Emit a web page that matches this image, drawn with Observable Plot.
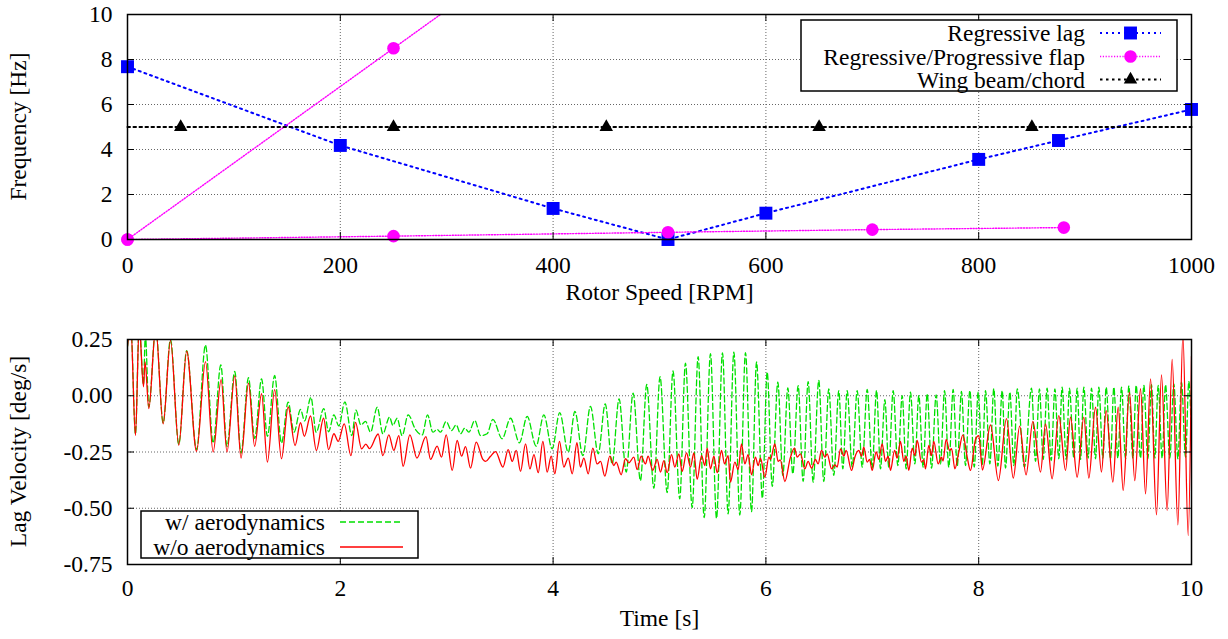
<!DOCTYPE html>
<html>
<head>
<meta charset="utf-8">
<script src="https://cdn.jsdelivr.net/npm/d3@7"></script>
<script src="https://cdn.jsdelivr.net/npm/@observablehq/plot@0.6"></script>
<style>
  html, body { margin: 0; padding: 0; background: white; overflow: hidden; }
  #chart svg { display: block; }
</style>
</head>
<body>
<div id="chart"></div>
<script>
// ---------- Top panel data ----------
const rpmTicks = [0, 200, 400, 600, 800, 1000];
const freqTicks = [0, 2, 4, 6, 8, 10];
const lagRpm = [0, 200, 400, 508, 600, 800, 875, 1000];
const lagFreq = [7.68, 4.18, 1.38, 0.0, 1.17, 3.56, 4.4, 5.78];
const flapUpRpm = [0, 250, 500];
const flapUpFreq = [0, 8.5, 17.0];
const flapLoRpm = [0, 250, 508, 700, 880];
const flapLoFreq = [0, 0.15, 0.32, 0.44, 0.53];
const wingLineRpm = [0, 1000];
const wingLineFreq = [5, 5];
const wingRpm = [50, 250, 450, 650, 850];
const wingFreq = [5, 5, 5, 5, 5];
const topLegend = ["Regressive lag", "Regressive/Progressive flap", "Wing beam/chord"];
const topTitles = {x: "Rotor Speed [RPM]", y: "Frequency [Hz]"};

// ---------- Bottom panel data ----------
const timeTicks = [0, 2, 4, 6, 8, 10];
const velTicks = [-0.75, -0.5, -0.25, 0, 0.25];
const bottomLegend = ["w/ aerodynamics", "w/o aerodynamics"];
const bottomTitles = {x: "Time [s]", y: "Lag Velocity [deg/s]"};
// [time s, lag velocity deg/s] — w/o aerodynamics
const redSeries = [[0.000,0.22],[0.030,0.32],[0.075,-0.177],[0.110,0.32],[0.150,0.04],[0.165,0.15],[0.200,-0.057],[0.265,0.30],[0.335,-0.125],[0.404,0.246],[0.482,-0.22],[0.556,0.198],[0.649,-0.247],[0.733,0.152],[0.805,-0.25],[0.880,0.072],[0.935,-0.25],[1.008,0.088],[1.067,-0.277],[1.137,0.056],[1.195,-0.225],[1.260,0.009],[1.315,-0.295],[1.383,0.027],[1.447,-0.280],[1.510,-0.050],[1.575,-0.221],[1.626,-0.120],[1.662,-0.180],[1.720,-0.090],[1.775,-0.243],[1.843,-0.100],[1.890,-0.239],[1.940,-0.169],[1.980,-0.203],[2.037,-0.125],[2.100,-0.266],[2.143,-0.118],[2.200,-0.236],[2.240,-0.215],[2.275,-0.235],[2.356,-0.170],[2.400,-0.266],[2.456,-0.174],[2.503,-0.243],[2.550,-0.177],[2.590,-0.313],[2.654,-0.174],[2.720,-0.277],[2.805,-0.182],[2.848,-0.283],[2.910,-0.224],[2.951,-0.273],[2.995,-0.174],[3.052,-0.332],[3.098,-0.199],[3.140,-0.268],[3.177,-0.226],[3.224,-0.322],[3.277,-0.206],[3.340,-0.283],[3.365,-0.292],[3.410,-0.270],[3.459,-0.248],[3.528,-0.317],[3.578,-0.239],[3.616,-0.292],[3.653,-0.243],[3.694,-0.336],[3.741,-0.214],[3.782,-0.325],[3.820,-0.262],[3.860,-0.342],[3.904,-0.203],[3.944,-0.339],[3.982,-0.268],[4.016,-0.347],[4.060,-0.203],[4.101,-0.317],[4.142,-0.277],[4.180,-0.347],[4.224,-0.209],[4.257,-0.317],[4.289,-0.277],[4.330,-0.347],[4.373,-0.233],[4.414,-0.303],[4.446,-0.292],[4.486,-0.357],[4.533,-0.268],[4.571,-0.310],[4.593,-0.295],[4.640,-0.351],[4.680,-0.280],[4.712,-0.298],[4.759,-0.273],[4.790,-0.328],[4.828,-0.268],[4.868,-0.303],[4.893,-0.268],[4.937,-0.332],[4.978,-0.283],[5.009,-0.339],[5.041,-0.288],[5.072,-0.342],[5.113,-0.262],[5.144,-0.317],[5.182,-0.258],[5.213,-0.336],[5.254,-0.254],[5.291,-0.317],[5.323,-0.254],[5.354,-0.372],[5.395,-0.266],[5.426,-0.310],[5.448,-0.233],[5.479,-0.325],[5.511,-0.268],[5.542,-0.342],[5.583,-0.243],[5.611,-0.303],[5.645,-0.266],[5.667,-0.384],[5.708,-0.295],[5.739,-0.328],[5.771,-0.214],[5.802,-0.303],[5.833,-0.262],[5.865,-0.351],[5.902,-0.273],[5.927,-0.310],[5.949,-0.277],[5.990,-0.362],[6.028,-0.273],[6.043,-0.283],[6.084,-0.214],[6.115,-0.292],[6.135,-0.285],[6.178,-0.381],[6.230,-0.275],[6.269,-0.233],[6.294,-0.273],[6.325,-0.258],[6.366,-0.325],[6.397,-0.292],[6.429,-0.322],[6.466,-0.283],[6.491,-0.303],[6.523,-0.243],[6.554,-0.273],[6.576,-0.258],[6.617,-0.325],[6.648,-0.307],[6.670,-0.317],[6.701,-0.236],[6.733,-0.268],[6.754,-0.243],[6.805,-0.332],[6.836,-0.273],[6.873,-0.243],[6.899,-0.268],[6.920,-0.228],[6.952,-0.295],[6.974,-0.283],[6.999,-0.332],[7.036,-0.250],[7.061,-0.283],[7.093,-0.214],[7.124,-0.292],[7.149,-0.268],[7.171,-0.332],[7.209,-0.243],[7.234,-0.277],[7.265,-0.203],[7.296,-0.292],[7.318,-0.268],[7.343,-0.332],[7.375,-0.233],[7.400,-0.266],[7.422,-0.199],[7.462,-0.295],[7.484,-0.285],[7.500,-0.325],[7.531,-0.221],[7.556,-0.266],[7.578,-0.203],[7.619,-0.303],[7.650,-0.273],[7.665,-0.290],[7.694,-0.194],[7.726,-0.243],[7.745,-0.235],[7.776,-0.325],[7.813,-0.251],[7.851,-0.174],[7.892,-0.273],[7.923,-0.332],[7.970,-0.194],[8.001,-0.177],[8.035,-0.330],[8.111,-0.130],[8.185,-0.377],[8.261,-0.102],[8.325,-0.366],[8.385,-0.135],[8.445,-0.352],[8.509,-0.114],[8.581,-0.339],[8.628,-0.125],[8.690,-0.369],[8.753,-0.088],[8.816,-0.332],[8.863,-0.095],[8.925,-0.362],[8.988,-0.095],[9.035,-0.366],[9.098,-0.051],[9.154,-0.339],[9.198,-0.066],[9.261,-0.384],[9.311,-0.051],[9.358,-0.421],[9.417,0.016],[9.467,-0.377],[9.521,0.031],[9.568,-0.436],[9.615,0.075],[9.671,-0.529],[9.718,0.093],[9.771,-0.510],[9.818,0.161],[9.872,-0.574],[9.919,0.27],[9.969,-0.621],[10.000,0.175]];
// [time s, lag velocity deg/s] — w/ aerodynamics
const greenSeries = [[0.000,0.22],[0.030,0.32],[0.075,-0.17],[0.110,0.32],[0.150,0.05],[0.168,0.27],[0.200,-0.05],[0.265,0.30],[0.335,-0.12],[0.404,0.25],[0.482,-0.215],[0.556,0.20],[0.649,-0.240],[0.733,0.225],[0.805,-0.210],[0.877,0.137],[0.935,-0.225],[1.008,0.108],[1.067,-0.255],[1.137,0.080],[1.195,-0.190],[1.260,0.075],[1.315,-0.180],[1.383,0.090],[1.447,-0.210],[1.510,-0.028],[1.565,-0.162],[1.626,-0.061],[1.664,-0.112],[1.724,-0.007],[1.773,-0.162],[1.845,-0.057],[1.890,-0.160],[1.940,-0.085],[1.986,-0.134],[2.043,-0.027],[2.108,-0.177],[2.147,-0.064],[2.193,-0.130],[2.237,-0.114],[2.284,-0.162],[2.347,-0.051],[2.400,-0.169],[2.463,-0.095],[2.494,-0.132],[2.534,-0.100],[2.581,-0.177],[2.638,-0.085],[2.707,-0.150],[2.770,-0.174],[2.820,-0.085],[2.870,-0.162],[2.910,-0.150],[2.942,-0.162],[2.995,-0.114],[3.045,-0.155],[3.089,-0.129],[3.130,-0.169],[3.170,-0.144],[3.208,-0.162],[3.264,-0.110],[3.318,-0.177],[3.380,-0.169],[3.434,-0.105],[3.521,-0.191],[3.600,-0.100],[3.684,-0.209],[3.756,-0.092],[3.841,-0.224],[3.913,-0.085],[3.991,-0.236],[4.062,-0.075],[4.142,-0.251],[4.205,-0.070],[4.280,-0.266],[4.351,-0.047],[4.424,-0.258],[4.490,-0.036],[4.555,-0.303],[4.620,-0.014],[4.687,-0.339],[4.752,0.012],[4.821,-0.377],[4.880,0.050],[4.947,-0.411],[5.005,0.085],[5.072,-0.430],[5.127,0.110],[5.190,-0.458],[5.244,0.145],[5.307,-0.497],[5.363,0.174],[5.420,-0.542],[5.479,0.187],[5.536,-0.545],[5.592,0.191],[5.645,-0.525],[5.699,0.194],[5.755,-0.530],[5.808,0.192],[5.865,-0.515],[5.912,0.150],[5.967,-0.455],[6.012,0.105],[6.060,-0.403],[6.112,0.060],[6.159,-0.354],[6.206,0.035],[6.253,-0.347],[6.303,0.045],[6.350,-0.381],[6.397,0.063],[6.444,-0.384],[6.497,0.068],[6.544,-0.381],[6.591,0.031],[6.638,-0.354],[6.685,0.023],[6.723,-0.325],[6.764,0.023],[6.811,-0.317],[6.858,0.023],[6.905,-0.317],[6.952,0.028],[6.999,-0.322],[7.040,0.023],[7.077,-0.325],[7.118,-0.017],[7.155,-0.317],[7.196,0.023],[7.240,-0.310],[7.281,0.001],[7.318,-0.325],[7.359,0.016],[7.400,-0.303],[7.437,0.001],[7.478,-0.317],[7.516,0.009],[7.557,-0.322],[7.600,0.004],[7.641,-0.303],[7.679,0.023],[7.719,-0.317],[7.760,0.028],[7.798,-0.313],[7.838,0.019],[7.876,-0.310],[7.917,0.023],[7.958,-0.317],[7.995,0.016],[8.033,-0.310],[8.064,0.023],[8.105,-0.303],[8.142,0.031],[8.180,-0.313],[8.221,0.023],[8.252,-0.322],[8.293,0.016],[8.330,-0.310],[8.362,0.031],[8.430,-0.317],[8.496,0.034],[8.534,-0.292],[8.571,0.031],[8.606,-0.283],[8.643,0.034],[8.681,-0.288],[8.716,0.031],[8.753,-0.280],[8.784,0.038],[8.822,-0.283],[8.853,0.034],[8.894,-0.277],[8.925,0.034],[8.957,-0.283],[8.988,0.038],[9.029,-0.277],[9.060,0.034],[9.098,-0.280],[9.129,0.038],[9.167,-0.277],[9.198,0.038],[9.239,-0.280],[9.270,0.038],[9.308,-0.277],[9.342,0.038],[9.380,-0.280],[9.411,0.043],[9.449,-0.277],[9.480,0.046],[9.521,-0.277],[9.552,0.046],[9.590,-0.280],[9.624,0.049],[9.655,-0.277],[9.687,0.046],[9.724,-0.277],[9.756,0.049],[9.796,-0.277],[9.834,0.053],[9.872,-0.280],[9.906,0.060],[9.944,-0.273],[9.975,0.063],[10.000,-0.20]];

// ---------- Build tables ----------
const zip = (xs, ys) => xs.map((x, i) => ({x, y: ys[i]}));
const lag = zip(lagRpm, lagFreq);
const flapUp = zip(flapUpRpm, flapUpFreq);
const flapLo = zip(flapLoRpm, flapLoFreq);
const flapPts = flapUp.concat(flapLo).filter(d => d.y <= 10);
const wingLine = zip(wingLineRpm, wingLineFreq);
const wingPts = zip(wingRpm, wingFreq);
const red = redSeries.map(([x, y]) => ({x, y}));
const green = greenSeries.map(([x, y]) => ({x, y}));

const FONT = "'Liberation Serif', 'Times New Roman', Times, serif";
const FS = 23.5;
const W = 1228, ML = 127, MR = 37;
const FW = W - ML - MR;        // frame width
const TICK = 7;
const BLUE = "#0000ff", MAG = "#ff00ff", GREEN = "#00e000", RED = "#ff0000";
const gridStyle = {stroke: "#666", strokeOpacity: 1, strokeWidth: 1, strokeDasharray: "1,2"};
const lagStyle = {stroke: BLUE, strokeWidth: 2, strokeDasharray: "2,4"};
const flapStyle = {stroke: MAG, strokeWidth: 1.4, strokeDasharray: "1.2,1.6"};
const wingStyle = {stroke: "black", strokeWidth: 2, strokeDasharray: "2.5,3.5"};

function frameTicks(xt, yt, FH) {
  return [
    Plot.tickX(xt, {x: d => d, insetTop: FH - TICK, stroke: "black", strokeWidth: 1}),
    Plot.tickX(xt, {x: d => d, insetBottom: FH - TICK, stroke: "black", strokeWidth: 1}),
    Plot.tickY(yt, {y: d => d, insetRight: FW - TICK, stroke: "black", strokeWidth: 1}),
    Plot.tickY(yt, {y: d => d, insetLeft: FW - TICK, stroke: "black", strokeWidth: 1})
  ];
}

// ---------- Top panel ----------
const TH = 320, TMT = 14, TMB = 81;
const topChart = Plot.plot({
  width: W, height: TH,
  marginLeft: ML, marginRight: MR, marginTop: TMT, marginBottom: TMB,
  x: {domain: [0, 1000]},
  y: {domain: [0, 10]},
  style: {fontFamily: FONT, fontSize: FS + "px", background: "white", color: "black"},
  marks: [
    Plot.gridX(rpmTicks.slice(1, -1), gridStyle),
    Plot.gridY(freqTicks.slice(1, -1), gridStyle),
    Plot.line(lag, {x: "x", y: "y", ...lagStyle, clip: true}),
    Plot.dot(lag, {x: "x", y: "y", symbol: "square", r: 7.3, fill: BLUE, stroke: "none"}),
    Plot.line(flapUp, {x: "x", y: "y", ...flapStyle, clip: true}),
    Plot.line(flapLo, {x: "x", y: "y", ...flapStyle, clip: true}),
    Plot.dot(flapPts, {x: "x", y: "y", symbol: "circle", r: 6.3, fill: MAG, stroke: "none"}),
    Plot.line(wingLine, {x: "x", y: "y", ...wingStyle}),
    Plot.dot(wingPts, {x: "x", y: "y", symbol: "triangle", r: 5, fill: "black", stroke: "none"}),
    ...frameTicks(rpmTicks, freqTicks, TH - TMT - TMB),
    Plot.frame({stroke: "black", strokeWidth: 1.5}),
    Plot.axisX(rpmTicks, {tickSize: 0, tickPadding: 17, label: null, fontSize: FS, tickFormat: d => String(d)}),
    Plot.axisY(freqTicks, {tickSize: 0, tickPadding: 15, label: null, fontSize: FS, tickFormat: d => String(d)}),
    Plot.text([topTitles.x], {text: d => d, frameAnchor: "bottom", dy: 60, fontSize: FS})
  ]
});

// ---------- Bottom panel ----------
const BH = 319, BMT = 19, BMB = 75;
const bottomChart = Plot.plot({
  width: W, height: BH,
  marginLeft: ML, marginRight: MR, marginTop: BMT, marginBottom: BMB,
  x: {domain: [0, 10]},
  y: {domain: [-0.75, 0.25]},
  style: {fontFamily: FONT, fontSize: FS + "px", background: "white", color: "black"},
  marks: [
    Plot.gridX(timeTicks.slice(1, -1), gridStyle),
    Plot.gridY(velTicks.slice(1, -1), gridStyle),
    Plot.line(green, {x: "x", y: "y", stroke: GREEN, strokeWidth: 1.3, strokeDasharray: "6,3", curve: "monotone-x", clip: true}),
    Plot.line(red, {x: "x", y: "y", stroke: RED, strokeWidth: 1.3, curve: "monotone-x", clip: true}),
    ...frameTicks(timeTicks, velTicks, BH - BMT - BMB),
    Plot.frame({stroke: "black", strokeWidth: 1.5}),
    Plot.axisX(timeTicks, {tickSize: 0, tickPadding: 15, label: null, fontSize: FS, tickFormat: d => String(d)}),
    Plot.axisY(velTicks, {tickSize: 0, tickPadding: 15, label: null, fontSize: FS, tickFormat: d => d.toFixed(2)}),
    Plot.text([bottomTitles.x], {text: d => d, frameAnchor: "bottom", dy: 61, fontSize: FS})
  ]
});

// ---------- Rotated y titles ----------
function yTitle(svg, text, cx, cy) {
  d3.select(svg).append("text")
    .attr("transform", `translate(${cx},${cy}) rotate(-90)`)
    .attr("text-anchor", "middle").attr("dominant-baseline", "central")
    .attr("font-family", FONT).attr("font-size", FS).attr("fill", "black")
    .text(text);
}
yTitle(topChart, topTitles.y, 18, TMT + (TH - TMT - TMB) / 2);
yTitle(bottomChart, bottomTitles.y, 18, BMT + (BH - BMT - BMB) / 2);

// ---------- Legends (gnuplot style boxes) ----------
function legend(svg, box, rows, textX, sampleX1, sampleX2, items) {
  const g = d3.select(svg).append("g").attr("font-family", FONT).attr("font-size", FS);
  g.append("rect").attr("x", box[0]).attr("y", box[1]).attr("width", box[2]).attr("height", box[3])
    .attr("fill", "white").attr("stroke", "black").attr("stroke-width", 1.5);
  items.forEach((it, i) => {
    const y = rows[i];
    g.append("text").attr("x", textX).attr("y", y).attr("text-anchor", "end")
      .attr("dominant-baseline", "central").text(it.label);
    g.append("line").attr("x1", sampleX1).attr("x2", sampleX2).attr("y1", y).attr("y2", y)
      .attr("stroke", it.color).attr("stroke-width", it.width).attr("stroke-dasharray", it.dash || null);
    if (it.symbol) {
      const cx = (sampleX1 + sampleX2) / 2;
      g.append("path").attr("transform", `translate(${cx},${y})`)
        .attr("d", d3.symbol(it.symbol, it.size)()).attr("fill", it.color);
    }
  });
}

legend(topChart, [801, 20, 376, 71], [33, 56.5, 79.5], 1085, 1100, 1161, [
  {label: topLegend[0], color: BLUE, width: 2, dash: lagStyle.strokeDasharray, symbol: d3.symbolSquare, size: Math.PI * 7.3 * 7.3},
  {label: topLegend[1], color: MAG, width: 1.4, dash: flapStyle.strokeDasharray, symbol: d3.symbolCircle, size: Math.PI * 6.3 * 6.3},
  {label: topLegend[2], color: "black", width: 2, dash: wingStyle.strokeDasharray, symbol: d3.symbolTriangle, size: Math.PI * 25}
]);

legend(bottomChart, [141, 191, 277, 47], [202, 227], 325, 340, 403, [
  {label: bottomLegend[0], color: GREEN, width: 1.3, dash: "6,3"},
  {label: bottomLegend[1], color: RED, width: 1.3}
]);

const chart = document.getElementById("chart");
chart.appendChild(topChart);
chart.appendChild(bottomChart);
</script>
</body>
</html>
